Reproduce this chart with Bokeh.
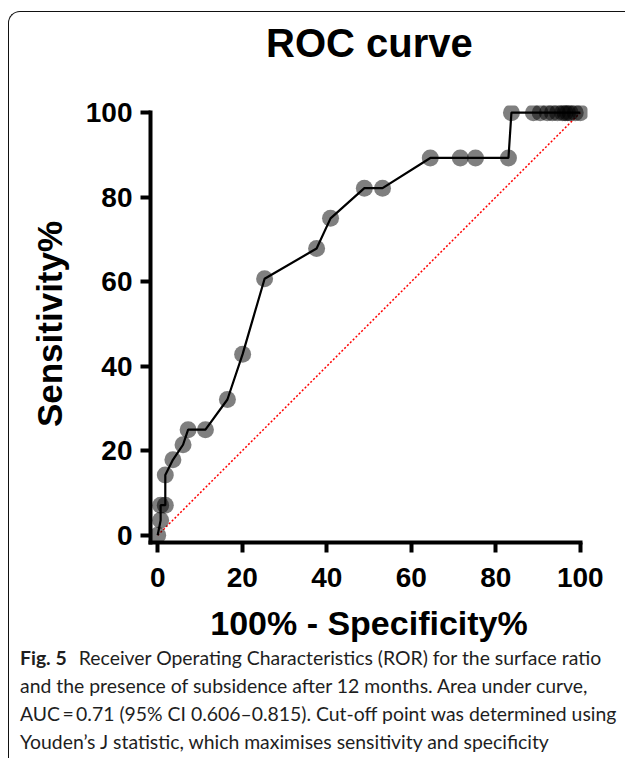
from bokeh.plotting import figure
from bokeh.layouts import column
from bokeh.models import FixedTicker, Div
from bokeh.embed import file_html
from bokeh.resources import INLINE

# ROC curve points: x = 100% - Specificity%, y = Sensitivity%
fpr = [0.0, 0.7, 0.7, 1.8, 1.8, 3.6, 6.0, 7.2, 11.3, 16.5, 20.1, 25.3, 37.6,
       40.9, 48.9, 53.2, 64.5, 71.6, 75.2, 83.0, 83.7, 88.9, 90.5, 92.2, 93.4,
       94.6, 95.8, 96.4, 97.0, 97.6, 98.8, 100.0]
tpr = [0.0, 3.57, 7.14, 7.14, 14.29, 17.86, 21.43, 25.0, 25.0, 32.14, 42.86,
       60.71, 67.86, 75.0, 82.14, 82.14, 89.29, 89.29, 89.29, 89.29, 100.0,
       100.0, 100.0, 100.0, 100.0, 100.0, 100.0, 100.0, 100.0, 100.0, 100.0, 100.0]
diag_x = [0, 100]
diag_y = [0, 100]
ticks = [0, 20, 40, 60, 80, 100]

title_text = "ROC curve"
x_label = "100% - Specificity%"
y_label = "Sensitivity%"
caption_bold = "Fig. 5"
caption_first = "Receiver Operating Characteristics (ROR) for the surface ratio"
caption_rest = [
    "and the presence of subsidence after 12 months. Area under curve,",
    "AUC\u2009=\u20090.71 (95% CI 0.606\u20130.815). Cut-off point was determined using",
    "Youden\u2019s J statistic, which maximises sensitivity and specificity",
]

W = 616
pad = 1.7
FW = 437

title_div = Div(
    width=W, height=62, margin=(0, 0, 0, 0),
    text=('<div style="font-family: \'Liberation Sans\'; font-weight: bold; '
          'font-size: 40px; line-height: 62px; color: black; white-space: nowrap; '
          'padding-left: 257px;">' + title_text + '</div>'))

p = figure(frame_width=FW, frame_height=FW,
           min_border_left=141, min_border_right=W - 141 - FW,
           min_border_top=31, min_border_bottom=108,
           x_range=(-pad, 100 + pad), y_range=(-pad, 100 + pad),
           output_backend="svg", toolbar_location=None)
p.outline_line_color = None
p.grid.visible = False
p.background_fill_color = "white"
p.border_fill_color = "white"

for ax in (p.xaxis[0], p.yaxis[0]):
    ax.ticker = FixedTicker(ticks=ticks)
    ax.bounds = (-pad, 100)
    ax.axis_line_width = 4
    ax.axis_line_cap = "square"
    ax.axis_line_color = "black"
    ax.major_tick_line_width = 4
    ax.major_tick_line_color = "black"
    ax.major_tick_out = 10
    ax.major_tick_in = 0
    ax.minor_tick_out = 0
    ax.minor_tick_in = 0
    ax.major_label_text_font = "Liberation Sans"
    ax.major_label_text_font_style = "bold"
    ax.major_label_text_font_size = "28px"
    ax.major_label_text_color = "black"
    ax.axis_label_text_font = "Liberation Sans"
    ax.axis_label_text_font_style = "bold"
    ax.axis_label_text_color = "black"

p.xaxis.axis_label = x_label
p.yaxis.axis_label = y_label
p.xaxis.axis_label_text_font_size = "34px"
p.yaxis.axis_label_text_font_size = "35px"
p.xaxis.major_label_standoff = 15
p.yaxis.major_label_standoff = 8
p.xaxis.axis_label_standoff = 14
p.yaxis.axis_label_standoff = 14

p.line(diag_x, diag_y, line_color="red", line_width=1.5, line_dash="2 2")
p.scatter(fpr, tpr, size=17, fill_color="black", fill_alpha=0.5, line_color=None)
p.line(fpr, tpr, line_color="black", line_width=2.2)

cap_style = ("font-family: Lato; font-size: 19.4px; color: #1e1e1e; "
             "white-space: nowrap; padding-left: 11px;")
cap_html = ('<div style="' + cap_style + ' line-height: 16px; margin-bottom: 6px;">'
            '<b>' + caption_bold + '</b>&ensp;&thinsp;' + caption_first + '</div>'
            '<div style="' + cap_style + ' line-height: 28px;">'
            + '<br>'.join(caption_rest) + '</div>')
cap_div = Div(width=W, height=108, margin=(0, 0, 0, 0), text=cap_html)

layout = column(title_div, p, cap_div, spacing=0,
                styles={"margin-left": "8px", "margin-top": "11px",
                        "border-left": "1px solid #111", "border-top": "1px solid #111",
                        "border-top-left-radius": "12px"})

open("out.html", "w").write(file_html(layout, INLINE))
